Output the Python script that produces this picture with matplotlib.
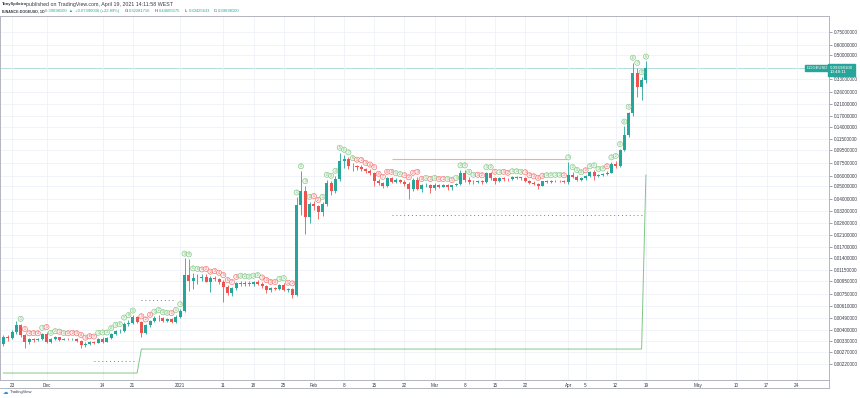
import matplotlib
matplotlib.use("Agg")
import matplotlib.pyplot as plt
import matplotlib.dates as mdates
from matplotlib.ticker import FixedLocator, FixedFormatter, NullLocator
import numpy as np
import pandas as pd

plt.rcParams["font.family"] = ["Liberation Sans", "DejaVu Sans"]

# daily candles, BINANCE:DOGEUSD 1D, 2020-11-21 .. 2021-04-19
dates = pd.date_range("2020-11-21", "2021-04-19", freq="D")

opens = [
    # Nov 21-30
    0.00310, 0.00352, 0.00345, 0.00384, 0.00436, 0.00362, 0.00323, 0.00338, 0.00333, 0.00340,
    # Dec
    0.00368, 0.00323, 0.00340, 0.00350, 0.00337, 0.00340, 0.00338, 0.00341, 0.00330, 0.00306,
    0.00312, 0.00322, 0.00318, 0.00342, 0.00325, 0.00345, 0.00370, 0.00390, 0.00392, 0.00445,
    0.00452, 0.00500, 0.00458, 0.00380, 0.00432, 0.00465, 0.00488, 0.00492, 0.00468, 0.00482,
    0.00460,
    # Jan
    0.00502, 0.00560, 0.01040, 0.00950, 0.00990, 0.01000, 0.01010, 0.00930, 0.00990, 0.00970,
    0.00930, 0.00850, 0.00760, 0.00830, 0.00910, 0.00895, 0.00910, 0.00895, 0.00920, 0.00900,
    0.00860, 0.00810, 0.00830, 0.00820, 0.00880, 0.00810, 0.00820, 0.00740, 0.03580, 0.04580,
    0.02900,
    # Feb
    0.03660, 0.03520, 0.03160, 0.03660, 0.05280, 0.04600, 0.05660, 0.07800, 0.08000, 0.07160,
    0.07080, 0.07000, 0.06700, 0.06550, 0.06300, 0.05500, 0.05300, 0.04970, 0.05760, 0.05400,
    0.05560, 0.05400, 0.05200, 0.04740, 0.05560, 0.04740, 0.05050, 0.05120,
    # Mar
    0.04850, 0.05100, 0.04950, 0.05050, 0.04900, 0.05050, 0.05200, 0.06290, 0.05600, 0.05400,
    0.05370, 0.05450, 0.05350, 0.06290, 0.05750, 0.05430, 0.05760, 0.05660, 0.05620, 0.05820,
    0.05780, 0.05790, 0.05430, 0.05280, 0.05180, 0.05030, 0.05430, 0.05400, 0.05450, 0.05480,
    0.05430,
    # Apr 1-19
    0.05350, 0.06110, 0.05900, 0.05600, 0.05720, 0.05960, 0.06360, 0.05950, 0.06100, 0.06150,
    0.06300, 0.07400, 0.07160, 0.09500, 0.12300, 0.17900, 0.36700, 0.28400, 0.32280,
]
highs = [
    0.00365, 0.00362, 0.00395, 0.00470, 0.00445, 0.00372, 0.00345, 0.00346, 0.00345, 0.00380,
    0.00385, 0.00348, 0.00358, 0.00355, 0.00346, 0.00345, 0.00348, 0.00345, 0.00335, 0.00320,
    0.00328, 0.00326, 0.00348, 0.00350, 0.00350, 0.00378, 0.00400, 0.00405, 0.00455, 0.00475,
    0.00515, 0.00510, 0.00465, 0.00440, 0.00478, 0.00505, 0.00520, 0.00500, 0.00495, 0.00492,
    0.00520,
    0.00575, 0.01400, 0.01380, 0.01080, 0.01070, 0.01060, 0.01070, 0.01020, 0.01030, 0.01000,
    0.00960, 0.00880, 0.00850, 0.00930, 0.00950, 0.00940, 0.00935, 0.00950, 0.00960, 0.00920,
    0.00880, 0.00850, 0.00850, 0.00900, 0.00910, 0.00840, 0.00830, 0.04100, 0.06500, 0.05000,
    0.03800,
    0.03850, 0.03600, 0.03800, 0.05600, 0.05500, 0.06000, 0.09000, 0.08700, 0.08300, 0.07500,
    0.07300, 0.07250, 0.06900, 0.06700, 0.06400, 0.05700, 0.05400, 0.05900, 0.05900, 0.05750,
    0.05650, 0.05550, 0.05350, 0.05800, 0.05900, 0.05200, 0.05300, 0.05200,
    0.05300, 0.05200, 0.05200, 0.05200, 0.05100, 0.05300, 0.06600, 0.06600, 0.05900, 0.05600,
    0.05600, 0.05550, 0.06400, 0.06400, 0.05900, 0.05850, 0.05900, 0.05800, 0.05950, 0.05950,
    0.05900, 0.05850, 0.05550, 0.05450, 0.05300, 0.05500, 0.05550, 0.05550, 0.05600, 0.05600,
    0.05550,
    0.07600, 0.06400, 0.06100, 0.05850, 0.06050, 0.06500, 0.06600, 0.06200, 0.06250, 0.06500,
    0.07600, 0.07800, 0.09600, 0.14250, 0.18500, 0.43800, 0.40000, 0.34000, 0.44670,
]
lows = [
    0.00300, 0.00330, 0.00338, 0.00370, 0.00355, 0.00290, 0.00310, 0.00325, 0.00328, 0.00335,
    0.00318, 0.00318, 0.00335, 0.00330, 0.00332, 0.00332, 0.00333, 0.00322, 0.00290, 0.00298,
    0.00305, 0.00312, 0.00315, 0.00318, 0.00320, 0.00340, 0.00362, 0.00378, 0.00385, 0.00430,
    0.00440, 0.00450, 0.00350, 0.00370, 0.00420, 0.00455, 0.00470, 0.00455, 0.00455, 0.00452,
    0.00452,
    0.00490, 0.00545, 0.00790, 0.00820, 0.00900, 0.00950, 0.00920, 0.00780, 0.00950, 0.00900,
    0.00650, 0.00740, 0.00720, 0.00810, 0.00860, 0.00870, 0.00870, 0.00870, 0.00880, 0.00830,
    0.00760, 0.00770, 0.00800, 0.00810, 0.00790, 0.00780, 0.00700, 0.00720, 0.03000, 0.02150,
    0.02600,
    0.03300, 0.02800, 0.02950, 0.03500, 0.04300, 0.04400, 0.05500, 0.06900, 0.06800, 0.06500,
    0.06600, 0.06500, 0.06300, 0.06100, 0.05000, 0.05100, 0.04800, 0.04900, 0.05300, 0.05250,
    0.05300, 0.05000, 0.04000, 0.04600, 0.04650, 0.04500, 0.04950, 0.04400,
    0.04700, 0.04800, 0.04900, 0.04700, 0.04700, 0.05000, 0.05100, 0.05400, 0.05200, 0.05200,
    0.05250, 0.05200, 0.05300, 0.05600, 0.05200, 0.05350, 0.05500, 0.05500, 0.05550, 0.05700,
    0.05600, 0.05350, 0.05200, 0.05050, 0.04740, 0.05000, 0.05300, 0.05300, 0.05350, 0.05350,
    0.05250,
    0.05200, 0.05750, 0.05450, 0.05500, 0.05600, 0.05850, 0.05600, 0.05850, 0.05950, 0.06050,
    0.06250, 0.06900, 0.07000, 0.09300, 0.11800, 0.17000, 0.24000, 0.22700, 0.30430,
]
closes = [
    0.00352, 0.00345, 0.00384, 0.00436, 0.00362, 0.00323, 0.00338, 0.00333, 0.00340, 0.00368,
    0.00323, 0.00340, 0.00350, 0.00337, 0.00340, 0.00338, 0.00341, 0.00330, 0.00306, 0.00312,
    0.00322, 0.00318, 0.00342, 0.00325, 0.00345, 0.00370, 0.00390, 0.00392, 0.00445, 0.00452,
    0.00500, 0.00458, 0.00380, 0.00432, 0.00465, 0.00488, 0.00492, 0.00468, 0.00482, 0.00460,
    0.00502,
    0.00560, 0.01040, 0.00950, 0.00990, 0.01000, 0.01010, 0.00930, 0.00990, 0.00970, 0.00930,
    0.00850, 0.00760, 0.00830, 0.00910, 0.00895, 0.00910, 0.00895, 0.00920, 0.00900, 0.00860,
    0.00810, 0.00830, 0.00820, 0.00880, 0.00810, 0.00820, 0.00740, 0.03580, 0.04580, 0.02900,
    0.03660,
    0.03520, 0.03160, 0.03660, 0.05280, 0.04600, 0.05660, 0.07800, 0.08000, 0.07160, 0.07080,
    0.07000, 0.06700, 0.06550, 0.06300, 0.05500, 0.05300, 0.04970, 0.05760, 0.05400, 0.05560,
    0.05400, 0.05200, 0.04740, 0.05560, 0.04740, 0.05050, 0.05120, 0.04850,
    0.05100, 0.04950, 0.05050, 0.04900, 0.05050, 0.05200, 0.06290, 0.05600, 0.05400, 0.05370,
    0.05450, 0.05350, 0.06290, 0.05750, 0.05430, 0.05760, 0.05660, 0.05620, 0.05820, 0.05780,
    0.05790, 0.05430, 0.05280, 0.05180, 0.05030, 0.05430, 0.05400, 0.05450, 0.05480, 0.05430,
    0.05350,
    0.06110, 0.05900, 0.05600, 0.05720, 0.05960, 0.06360, 0.05950, 0.06100, 0.06150, 0.06300,
    0.07400, 0.07160, 0.09500, 0.12300, 0.17900, 0.36700, 0.28400, 0.32280, 0.39700,
]

last_price = 0.39698100

# right price scale
price_ticks = [0.0022, 0.0027, 0.0033, 0.0040, 0.0049, 0.0061, 0.0075, 0.0095, 0.0115,
               0.014, 0.017, 0.021, 0.026, 0.032, 0.040, 0.050, 0.060, 0.075, 0.095,
               0.115, 0.14, 0.17, 0.21, 0.26, 0.33, 0.50, 0.60, 0.75]

# time scale
tick_dates = ["2020-11-23", "2020-12-01", "2020-12-14", "2020-12-21", "2021-01-01",
              "2021-01-11", "2021-01-18", "2021-01-25", "2021-02-01", "2021-02-08",
              "2021-02-15", "2021-02-22", "2021-03-01", "2021-03-08", "2021-03-15",
              "2021-03-22", "2021-04-01", "2021-04-05", "2021-04-12", "2021-04-19",
              "2021-05-01", "2021-05-10", "2021-05-17", "2021-05-24"]
tick_labels = ["23", "Dec", "14", "21", "2021", "11", "18", "25", "Feb", "8", "15", "22",
               "Mar", "8", "15", "22", "Apr", "5", "12", "19", "May", "10", "17", "24"]

# green indicator line
green_dates = ["2020-11-21", "2020-12-22", "2020-12-23", "2021-04-18", "2021-04-19"]
green_vals = [0.00187, 0.00187, 0.00285, 0.00285, 0.0607]

# TD support / resistance levels (start, end, price)
tdst_red = ("2021-02-19", "2021-04-01", 0.080)
tdst_dots = [("2020-12-12", "2020-12-22", 0.00231),
             ("2020-12-23", "2020-12-31", 0.00675),
             ("2021-02-19", "2021-04-18", 0.0301)]

UP = "#26a69a"
DOWN = "#ef5350"
GRID = "#eef1f6"
BORDER = "#b2b5be"
TXT = "#363a45"

W, H = 860, 398
fig = plt.figure(figsize=(W / 100, H / 100), dpi=100)
ax = fig.add_axes([0.0, 18 / H, 829 / W, 364 / H])

x = mdates.date2num(dates)
o = np.array(opens)
h = np.array(highs)
l = np.array(lows)
c = np.array(closes)
col = np.where(c >= o, UP, DOWN)

ax.vlines(x, l, h, colors=col, lw=0.6, zorder=3)
body = np.maximum(np.abs(c - o), c * 0.006)
ax.bar(x, body, bottom=np.minimum(o, c), width=0.7, color=col, lw=0, zorder=4)

ax.set_yscale("log")
ax.set_ylim(0.001654, 0.993)
ax.set_xlim(mdates.date2num(pd.Timestamp("2020-11-20 05:00")),
            mdates.date2num(pd.Timestamp("2021-05-31 11:00")))

# grid + axes styling
ax.xaxis.set_major_locator(FixedLocator(mdates.date2num(pd.to_datetime(tick_dates))))
ax.xaxis.set_major_formatter(FixedFormatter(tick_labels))
ax.yaxis.set_major_locator(FixedLocator(price_ticks))
ax.yaxis.set_major_formatter(FixedFormatter(["%.8f" % p for p in price_ticks]))
ax.yaxis.set_minor_locator(NullLocator())
ax.grid(True, color=GRID, lw=0.6, zorder=0)
ax.tick_params(axis="y", left=False, labelleft=False, right=True, labelright=True,
               length=2, width=0.5, color="#787b86", pad=1.5, labelsize=3.3, labelcolor=TXT)
ax.tick_params(axis="x", length=0, pad=2, labelsize=3.3, labelcolor=TXT)
for s in ax.spines.values():
    s.set_color(BORDER)
    s.set_linewidth(0.7)

# last price line
ax.axhline(last_price, color=UP, lw=0.5, alpha=0.5, zorder=1)

# green line
ax.plot(mdates.date2num(pd.to_datetime(green_dates)), green_vals, color="#81c784",
        lw=0.7, zorder=2)

# TDST lines
s0, s1, lvl = tdst_red
ax.hlines(lvl, mdates.date2num(pd.Timestamp(s0)), mdates.date2num(pd.Timestamp(s1)),
          color="#f7a9a8", lw=0.8, zorder=2)
for s0, s1, lvl in tdst_dots:
    ax.hlines(lvl, mdates.date2num(pd.Timestamp(s0)), mdates.date2num(pd.Timestamp(s1)),
              color="#787b86", lw=0.7, linestyles=(0, (1, 3)), zorder=2)

# TD sequential setup counts
up_n, dn_n = 0, 0
for i in range(4, len(c)):
    if c[i] > c[i - 4]:
        up_n, dn_n = up_n + 1, 0
    elif c[i] < c[i - 4]:
        up_n, dn_n = 0, dn_n + 1
    n = up_n if up_n else dn_n
    if n < 1 or n > 9:
        continue
    ec, fc = ("#66bb6a", "#eaf6ea") if up_n else ("#ef5350", "#fdecec")
    ax.annotate(str(n), (x[i], h[i]), xytext=(0, 3.5), textcoords="offset points",
                ha="center", va="center", fontsize=2.3, color=ec, zorder=6,
                bbox=dict(boxstyle="circle,pad=0.18", fc=fc, ec=ec, lw=0.35))

# price label on the scale
fig.text(830 / W, 1 - 70 / H, "0.39698100\n10:48:11", fontsize=3.2, color="white",
         ha="left", va="center", linespacing=1.2,
         bbox=dict(boxstyle="square,pad=0.35", fc=UP, ec=UP))
fig.text(817 / W, 1 - 68 / H, "DOGEUSD", fontsize=3.0, color="white", ha="center",
         va="center", bbox=dict(boxstyle="square,pad=0.3", fc=UP, ec=UP))

# header
fig.text(2 / W, 1 - 4.5 / H, "TonySpilotro", fontsize=3.0, weight="bold", color=TXT,
         va="center")
fig.text(26 / W, 1 - 4.5 / H, "published on TradingView.com, April 19, 2021 14:11:58 WEST",
         fontsize=3.8, color=TXT, va="center")
fig.text(2 / W, 1 - 11 / H, "BINANCE:DOGEUSD, 1D", fontsize=2.6, weight="bold",
         color=TXT, va="center")
fig.text(45 / W, 1 - 11 / H, "0.39698100  \u25b2  +0.07390036 (+22.89%)", fontsize=3.0,
         color=UP, va="center")
ohlc_hdr = [("O:", "0.32281716", 125), ("H:", "0.44665575", 155),
            ("L:", "0.30425633", 185), ("C:", "0.39698100", 214)]
for key, val, px in ohlc_hdr:
    fig.text(px / W, 1 - 11 / H, key, fontsize=3.0, color=TXT, va="center")
    fig.text((px + 4) / W, 1 - 11 / H, val, fontsize=3.0, color=UP, va="center")

# footer
fig.lines.append(plt.Line2D([0, 829 / W], [1 - 388 / H] * 2, color=BORDER, lw=0.7,
                            transform=fig.transFigure))
fig.lines.append(plt.Line2D([829 / W] * 2, [1 - 388 / H, 18 / H], color=BORDER, lw=0.7,
                            transform=fig.transFigure))
fig.text(3 / W, 1 - 392.5 / H, "\u2601", fontsize=4, color="#2196f3", va="center",
         family="DejaVu Sans")
fig.text(10 / W, 1 - 392.5 / H, "TradingView", fontsize=3.0, color=TXT, va="center")

fig.savefig("out.png", dpi=100, facecolor="white")
